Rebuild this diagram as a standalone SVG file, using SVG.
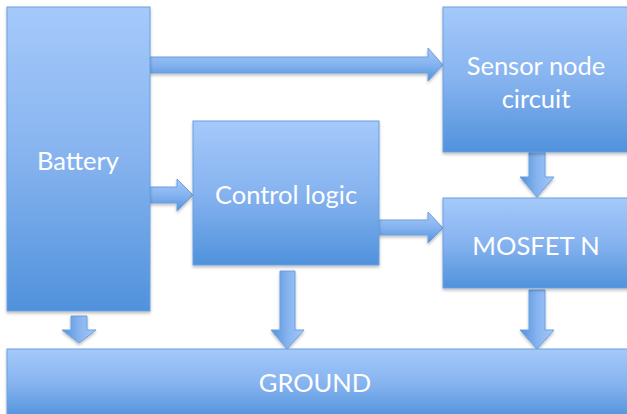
<svg xmlns="http://www.w3.org/2000/svg" width="627" height="414" viewBox="0 0 627 414">
<defs>
<linearGradient id="gv" x1="0" y1="0" x2="0" y2="1">
<stop offset="0" stop-color="#a5c9fb"/>
<stop offset="0.5" stop-color="#86b3ef"/>
<stop offset="1" stop-color="#5092dc"/>
</linearGradient>
<linearGradient id="gh" x1="1" y1="0" x2="0" y2="0">
<stop offset="0" stop-color="#a5c9fb"/>
<stop offset="0.5" stop-color="#86b3ef"/>
<stop offset="1" stop-color="#5092dc"/>
</linearGradient>
<filter id="sh" x="-10%" y="-10%" width="130%" height="130%">
<feDropShadow dx="0" dy="2" stdDeviation="1.5" flood-color="#000" flood-opacity="0.25"/>
</filter>
</defs>
<style>
.box{fill:url(#gv);stroke:#6b9fe0;stroke-width:1;filter:url(#sh)}
.ah{fill:url(#gv);stroke:#6b9fe0;stroke-width:1;filter:url(#sh)}
.av{fill:url(#gh);stroke:#6b9fe0;stroke-width:1;filter:url(#sh)}
.lbl{font-family:Lato,"Open Sans","Liberation Sans",sans-serif;font-size:25.5px;fill:#fff;text-anchor:middle}
</style>
<g id="connectors">
<path class="ah" d="M150,57 H428 V48 L443,65 L428,81 V73 H150 Z"/>
<path class="ah" d="M150,187 H177 V179 L193,195 L177,211 V203 H150 Z"/>
<path class="ah" d="M379,220 H428 V212 L443,228 L428,243 V235 H379 Z"/>
<path class="av" d="M529,152 V177 H520 L537,197 L554,177 H545 V152 Z"/>
<path class="av" d="M71,316 V330 H62 L79,343 L96,330 H87 V316 Z"/>
<path class="av" d="M280,271 V330 H271 L287,349 L304,330 H295 V271 Z"/>
<path class="av" d="M529,290 V330 H520 L537,349 L554,330 H545 V290 Z"/>
</g>
<g id="battery">
<rect class="box" x="7" y="7" width="143" height="304"/>
<text class="lbl" x="78" y="170">Battery</text>
</g>
<g id="sensor">
<rect class="box" x="443" y="7" width="200" height="145"/>
<text class="lbl" x="536" y="75">Sensor node</text>
<text class="lbl" x="536" y="108">circuit</text>
</g>
<g id="control">
<rect class="box" x="193" y="121" width="186" height="144"/>
<text class="lbl" x="286" y="204">Control logic</text>
</g>
<g id="mosfet">
<rect class="box" x="443" y="198" width="200" height="90"/>
<text class="lbl" x="536" y="255">MOSFET N</text>
</g>
<g id="ground">
<rect class="box" x="7" y="349" width="640" height="70"/>
<text class="lbl" x="315" y="392">GROUND</text>
</g>
</svg>
